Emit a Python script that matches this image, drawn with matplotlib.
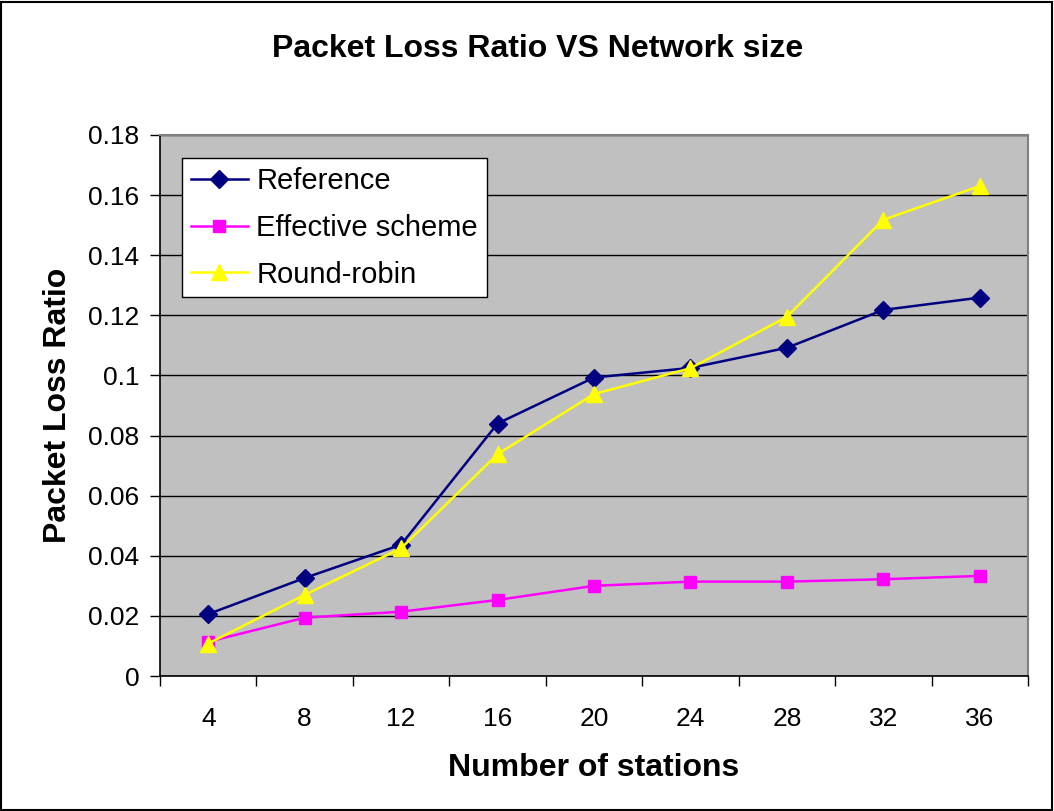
import matplotlib
matplotlib.use("Agg")
import matplotlib.pyplot as plt
from matplotlib.patches import Rectangle
from matplotlib.ticker import FixedLocator, FuncFormatter

plt.rcParams['font.family'] = ['Liberation Sans', 'DejaVu Sans']

# data
stations = ['4', '8', '12', '16', '20', '24', '28', '32', '36']
reference = [0.0206, 0.0326, 0.0437, 0.0840, 0.0993, 0.1025, 0.1092, 0.1218, 0.1259]
effective = [0.0114, 0.0194, 0.0214, 0.0253, 0.0300, 0.0314, 0.0314, 0.0322, 0.0333]
round_robin = [0.0108, 0.0270, 0.0425, 0.0738, 0.0938, 0.1024, 0.1195, 0.1518, 0.1630]

fig = plt.figure(figsize=(10.54, 8.11), dpi=100)
ax = fig.add_axes([160 / 1054, 1 - 676 / 811, 868 / 1054, 541 / 811])

x = range(len(stations))
ax.plot(x, reference, color='#000080', lw=1.8, marker='D', ms=9, label='Reference', zorder=3)
ax.plot(x, effective, color='#FF00FF', lw=1.8, marker='s', ms=9, label='Effective scheme', zorder=3)
ax.plot(x, round_robin, color='#FFFF00', lw=1.8, marker='^', ms=12, label='Round-robin', zorder=3)

ax.set_facecolor('#C0C0C0')
ax.set_xlim(-0.5, len(stations) - 0.5)
ax.set_ylim(0, 0.18)
ax.set_yticks([i * 0.02 for i in range(10)])
ax.yaxis.set_major_formatter(FuncFormatter(lambda v, p: '%g' % round(v, 2)))
ax.grid(axis='y', color='black', lw=1)
ax.set_axisbelow(True)

# category axis: ticks between categories, labels at the centres
ax.xaxis.set_major_locator(FixedLocator([i - 0.5 for i in range(len(stations) + 1)]))
ax.xaxis.set_major_formatter(FuncFormatter(lambda v, p: ''))
ax.xaxis.set_minor_locator(FixedLocator(list(x)))
ax.set_xticklabels(stations, minor=True)
ax.tick_params(axis='x', which='major', length=7, width=1, color='black')
ax.tick_params(axis='x', which='minor', length=0, pad=22, labelsize=19)
ax.tick_params(axis='y', length=7, width=1, color='black', labelsize=19, pad=8)

for s in ['top', 'right']:
    ax.spines[s].set_color('#808080')
    ax.spines[s].set_linewidth(1.5)
for s in ['left', 'bottom']:
    ax.spines[s].set_color('black')
    ax.spines[s].set_linewidth(1.2)

ax.set_xlabel('Number of stations', fontsize=23, fontweight='bold', labelpad=16)
ax.set_ylabel('Packet Loss Ratio', fontsize=23, fontweight='bold', labelpad=11)
fig.text(538 / 1054, 1 - 49 / 811, 'Packet Loss Ratio VS Network size',
         fontsize=23, fontweight='bold', ha='center', va='center')

leg = ax.legend(loc='upper left', bbox_to_anchor=(182 / 1054, 1 - 158 / 811),
                bbox_transform=fig.transFigure, fontsize=21, fancybox=False,
                framealpha=1, edgecolor='black', borderpad=0.3, labelspacing=0.65,
                handlelength=1.95, handletextpad=0.3, borderaxespad=0)
leg.get_frame().set_linewidth(1)

fig.patches.append(Rectangle((0.001, 0.001), 0.997, 0.997, transform=fig.transFigure,
                             fill=False, edgecolor='black', lw=1.5))

fig.savefig('out.png', dpi=100)
